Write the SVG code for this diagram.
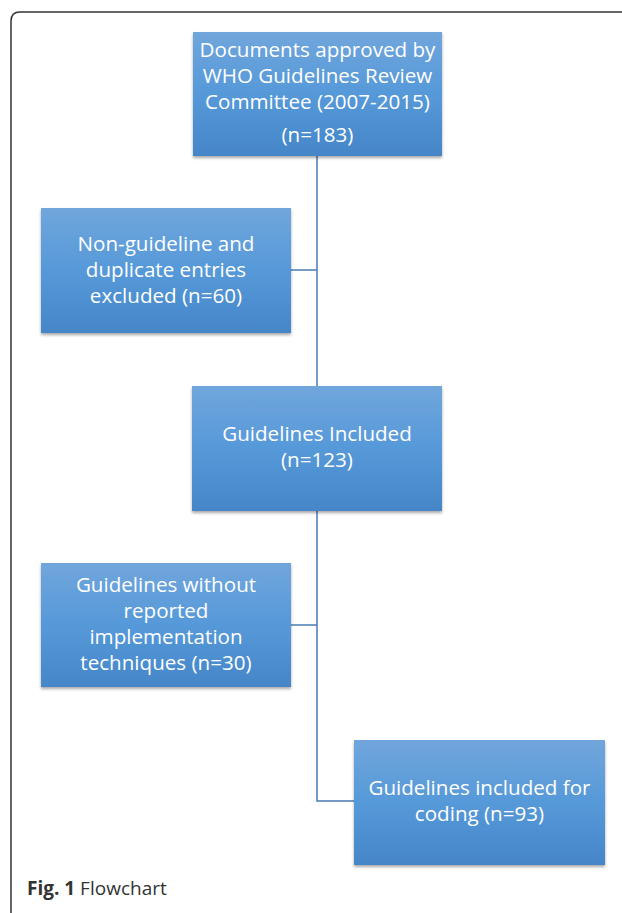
<svg xmlns="http://www.w3.org/2000/svg" width="622" height="913" viewBox="0 0 622 913">
<defs>
<linearGradient id="g" x1="0" y1="0" x2="0" y2="1">
<stop offset="0" stop-color="#71a6dc"/>
<stop offset="0.5" stop-color="#5699d9"/>
<stop offset="1" stop-color="#4586c8"/>
</linearGradient>
<filter id="sh" x="-10%" y="-10%" width="120%" height="120%">
<feGaussianBlur in="SourceAlpha" stdDeviation="1.5"/>
<feOffset dx="0" dy="2" result="b"/>
<feComponentTransfer><feFuncA type="linear" slope="0.35"/></feComponentTransfer>
<feMerge><feMergeNode/><feMergeNode in="SourceGraphic"/></feMerge>
</filter>
</defs>
<style>
.box{fill:url(#g);filter:url(#sh);}
.t{font-family:"Open Sans","Noto Sans",sans-serif;font-size:20.6px;fill:#ffffff;text-anchor:middle;}
.c{fill:none;stroke:#4a7ab5;stroke-width:1.5;}
.cap{font-family:"Open Sans","Noto Sans",sans-serif;font-size:19px;fill:#333333;}
</style>
<rect width="622" height="913" fill="#ffffff"/>
<path d="M11 916 V21 Q11 12 20 12 H624" fill="none" stroke="#333333" stroke-width="1.5"/>
<g id="connectors">
<path class="c" d="M317 156 V386"/>
<path class="c" d="M291 270 H317"/>
<path class="c" d="M317 511 V801 H354"/>
<path class="c" d="M291 625 H317"/>
</g>
<g id="n1">
<rect class="box" x="193" y="32" width="249" height="124"/>
<text class="t" x="317.5" y="57">Documents approved by</text>
<text class="t" x="317.5" y="83">WHO Guidelines Review</text>
<text class="t" x="317.5" y="109">Committee (2007-2015)</text>
<text class="t" x="317.5" y="142">(n=183)</text>
</g>
<g id="n2">
<rect class="box" x="41" y="208" width="250" height="125"/>
<text class="t" x="166" y="251">Non-guideline and</text>
<text class="t" x="166" y="277">duplicate entries</text>
<text class="t" x="166" y="303">excluded (n=60)</text>
</g>
<g id="n3">
<rect class="box" x="192" y="386" width="250" height="125"/>
<text class="t" x="317" y="441">Guidelines Included</text>
<text class="t" x="317" y="467">(n=123)</text>
</g>
<g id="n4">
<rect class="box" x="41" y="563" width="250" height="124"/>
<text class="t" x="166" y="592">Guidelines without</text>
<text class="t" x="166" y="618">reported</text>
<text class="t" x="166" y="644">implementation</text>
<text class="t" x="166" y="670">techniques (n=30)</text>
</g>
<g id="n5">
<rect class="box" x="354" y="740" width="251" height="125"/>
<text class="t" x="479.5" y="795">Guidelines included for</text>
<text class="t" x="479.5" y="821">coding (n=93)</text>
</g>
<text class="cap" x="27" y="895"><tspan font-weight="bold">Fig. 1</tspan> Flowchart</text>
</svg>
